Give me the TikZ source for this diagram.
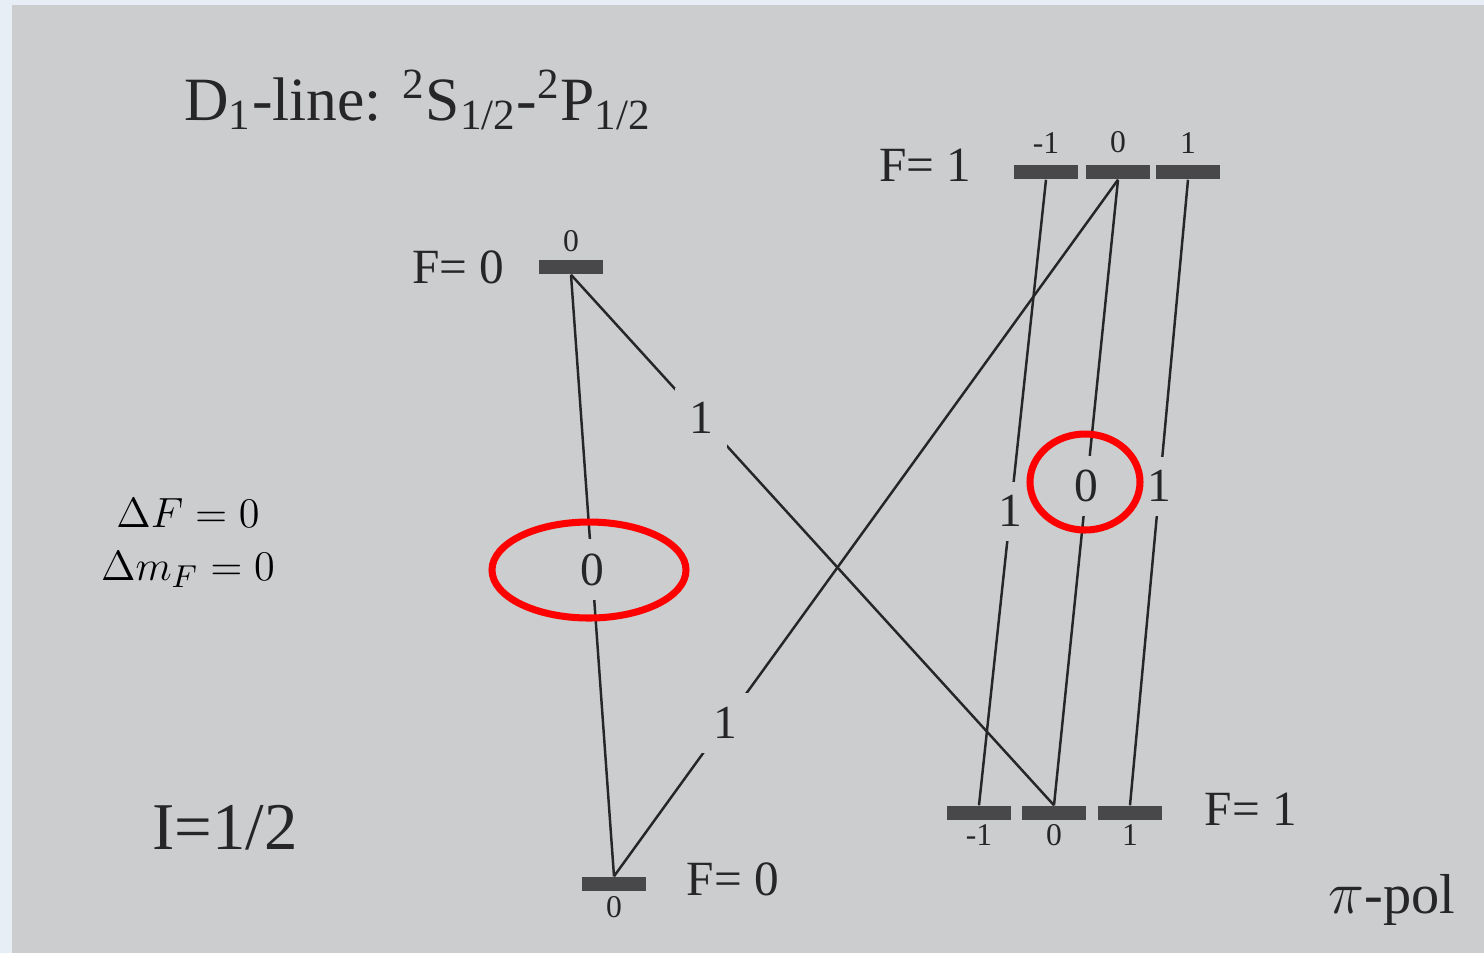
\documentclass[tikz,border=0pt]{standalone}
\usepackage{fontspec}
\setmainfont{Liberation Serif}
\usetikzlibrary{positioning, calc}
\definecolor{paper}{RGB}{204,205,206}
\definecolor{frame}{RGB}{232,238,246}
\definecolor{ink}{RGB}{38,38,40}
\definecolor{barfill}{RGB}{72,72,74}

\begin{document}
\begin{tikzpicture}[x=0.01cm, y=-0.01cm,
    level/.style={fill=barfill, minimum width=0.63cm, minimum height=0.14cm, inner sep=0pt},
    mlbl/.style={font=\fontsize{9}{10}\selectfont, text=ink, inner sep=1pt},
    trans/.style={ink, line width=0.7pt},
    strength/.style={fill=paper, font=\fontsize{13.5}{15}\selectfont, text=ink, inner sep=4pt},
    flbl/.style={font=\fontsize{14}{16}\selectfont, text=ink},
    ring/.style={red, line width=2pt}]

    % Page background (photo frame)
    \fill[frame] (0,0) rectangle (1484,953);
    \fill[paper] (12,5) rectangle (1484,953);
    \useasboundingbox (0,0) rectangle (1484,953);

    % Title
    \node[font=\fontsize{17.5}{21}\selectfont, text=ink] (title) at (418,100)
      {D\textsubscript{1}-line: \textsuperscript{2}S\textsubscript{1/2}-\textsuperscript{2}P\textsubscript{1/2}};

    % Upper levels (2P1/2)
    \node[level] (u0) at (571,267) {};
    \node[mlbl, above=1pt of u0] {0};
    \node[flbl, left=0.22cm of u0] {F= 0};
    \foreach \n/\m/\x in {a/-1/1046, b/0/1118, c/1/1188} {
      \node[level] (u\n) at (\x,172) {};
      \node[mlbl, above=2pt of u\n] {\m};
    }
    \node[flbl, left=0.3cm of ua, yshift=0.07cm] {F= 1};

    % Lower levels (2S1/2)
    \node[level] (l0) at (614,884) {};
    \node[mlbl, below=0pt of l0] {0};
    \node[flbl, right=0.28cm of l0, yshift=0.05cm] {F= 0};
    \foreach \n/\m/\x in {a/-1/979, b/0/1054, c/1/1130} {
      \node[level] (l\n) at (\x,813) {};
      \node[mlbl, below=0pt of l\n] {\m};
    }
    \node[flbl, right=0.3cm of lc, yshift=0.04cm] {F= 1};

    % Transitions with relative strengths
    \draw[trans] (u0.south) -- node[strength, pos=0.49] {0} (l0.north);
    \draw[trans] (u0.south) -- node[strength, pos=0.27] {1} (lb.north);
    \draw[trans] (ub.south) -- node[strength, pos=0.78] {1} (l0.north);
    \draw[trans] (ua.south) -- node[strength, pos=0.53] {1} (la.north);
    \draw[trans] (ub.south) -- node[strength, pos=0.49] {0} (lb.north);
    \draw[trans] (uc.south) -- node[strength, pos=0.49] {1} (lc.north);

    % Selection rules and notes
    \node[font=\fontsize{13}{15}\selectfont] (dF) at (188,513) {$\Delta F = 0$};
    \node[font=\fontsize{13}{15}\selectfont] (dmF) at (188,570) {$\Delta m_F = 0$};
    \node[font=\fontsize{19}{22}\selectfont, text=ink] (spin) at (225,828) {I=1/2};
    \node[font=\fontsize{16}{19}\selectfont, text=ink] (pol) at (1392,900) {$\pi$-pol};

    % Highlighted zeros
    \draw[ring] (589,570) ellipse [x radius=97, y radius=48];
    \draw[ring] (1085,482) ellipse [x radius=55, y radius=48];

\end{tikzpicture}
\end{document}
